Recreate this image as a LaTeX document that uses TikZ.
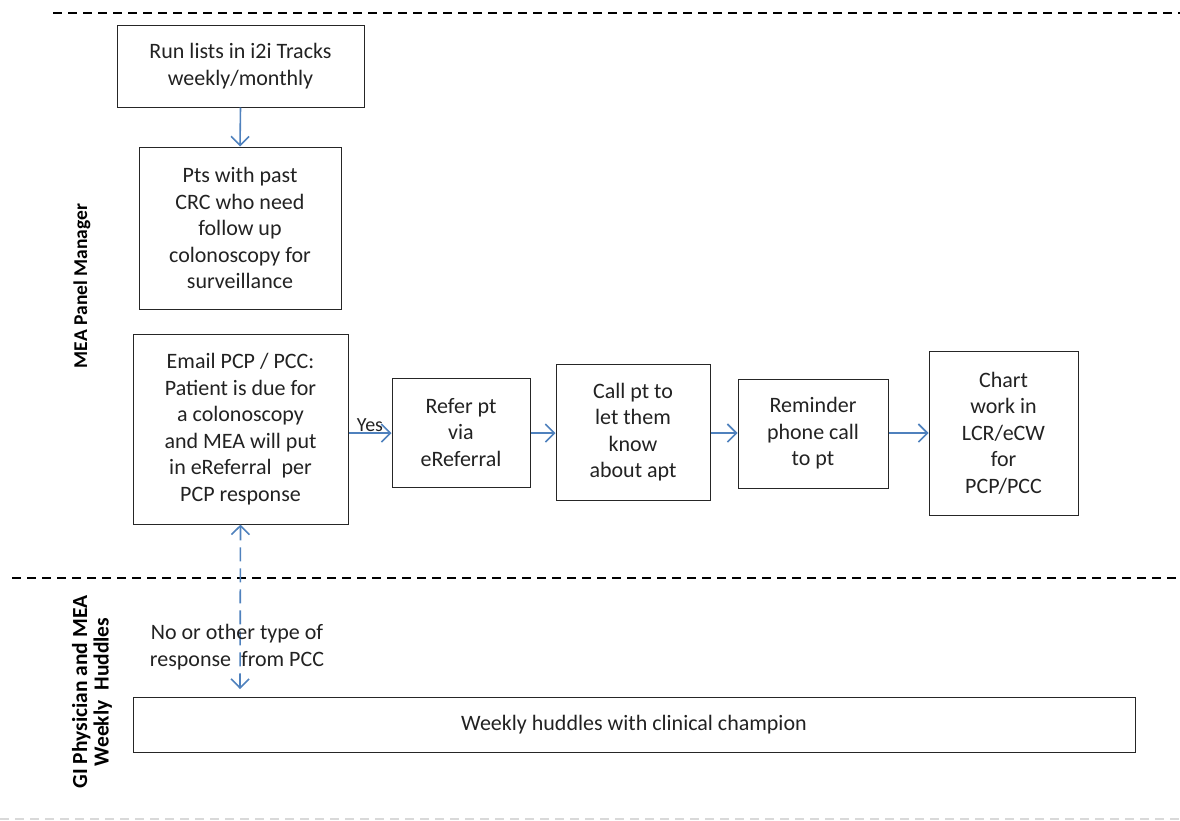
\documentclass[tikz,border=0pt]{standalone}
\usepackage{fontspec}
\setmainfont{Carlito}
\usetikzlibrary{arrows.meta}
\definecolor{arr}{HTML}{4F81BD}
\definecolor{txt}{HTML}{222222}
\begin{document}
\begin{tikzpicture}[x=1pt,y=-1pt,
  box/.style={draw=black!85,line width=1pt,align=center,text=txt,font=\fontsize{22}{26.5}\selectfont,inner sep=0pt},
  tip/.tip={Straight Barb[length=9pt,width=18pt,line width=1.6pt]},
  flow/.style={draw=arr,line width=1.6pt,-tip},
  lane/.style={dashed,line width=1.3pt,dash pattern=on 9pt off 6pt},
  lbl/.style={font=\fontsize{19.5}{22}\selectfont\bfseries,text=black,align=center,rotate=90}]
\useasboundingbox (0,0) rectangle (1180,820);
\draw[lane] (53,13) -- (1180,13);
\draw[lane] (12,578) -- (1180,578);
\draw[lane,black!15,line width=1.2pt] (0,819) -- (1180,819);
\node[box,minimum width=247pt,minimum height=82pt] (b1) at (240.5,66) {Run lists in i2i Tracks\\weekly/monthly};
\node[box,minimum width=202pt,minimum height=162pt] (b2) at (240,228) {Pts with past\\CRC who need\\follow up\\colonoscopy for\\surveillance};
\node[box,minimum width=215pt,minimum height=190pt] (b3) at (240.5,429) {Email PCP / PCC:\\Patient is due for\\a colonoscopy\\and MEA will put\\in eReferral\ \ per\\PCP response};
\node[box,minimum width=138pt,minimum height=109pt] (b4) at (461,432.5) {Refer pt\\via\\eReferral};
\node[box,minimum width=154pt,minimum height=136pt] (b5) at (633,432) {Call pt to\\let them\\know\\about apt};
\node[box,minimum width=150pt,minimum height=109pt] (b6) at (813,433.5) {Reminder\\phone call\\to pt};
\node[box,minimum width=149pt,minimum height=164pt] (b7) at (1003.5,433) {Chart\\work in\\LCR/eCW\\for\\PCP/PCC};
\node[box,minimum width=1002pt,minimum height=55pt] (b8) at (634,724.5) {Weekly huddles with clinical champion};
\node[lbl] (l1) at (82,286) {MEA Panel Manager};
\node[lbl,font=\fontsize{21.5}{21.5}\selectfont\bfseries] (l2) at (92,692) {GI Physician and MEA\\Weekly\ \ Huddles};
\draw[flow] (b1.south) -- (b2.north);
\draw[flow] (b3.east |- 0,433) -- (b4.west |- 0,433) node[pos=0.5,above=-3pt,text=txt,font=\fontsize{20}{20}\selectfont] (yes) {Yes};
\draw[flow] (b4.east |- 0,433) -- (b5.west |- 0,433);
\draw[flow] (b5.east |- 0,433) -- (b6.west |- 0,433);
\draw[flow] (b6.east |- 0,433) -- (b7.west |- 0,433);
\coordinate (dbot) at (240,689);
\draw[flow,tip-tip,dash pattern=on 14pt off 7pt] (b3.south) -- (dbot);
\node[text=txt,align=center,font=\fontsize{22}{27}\selectfont,inner sep=0pt] (no) at (237,647) {No or other type of\\response\ \ from PCC};
\end{tikzpicture}
\end{document}
